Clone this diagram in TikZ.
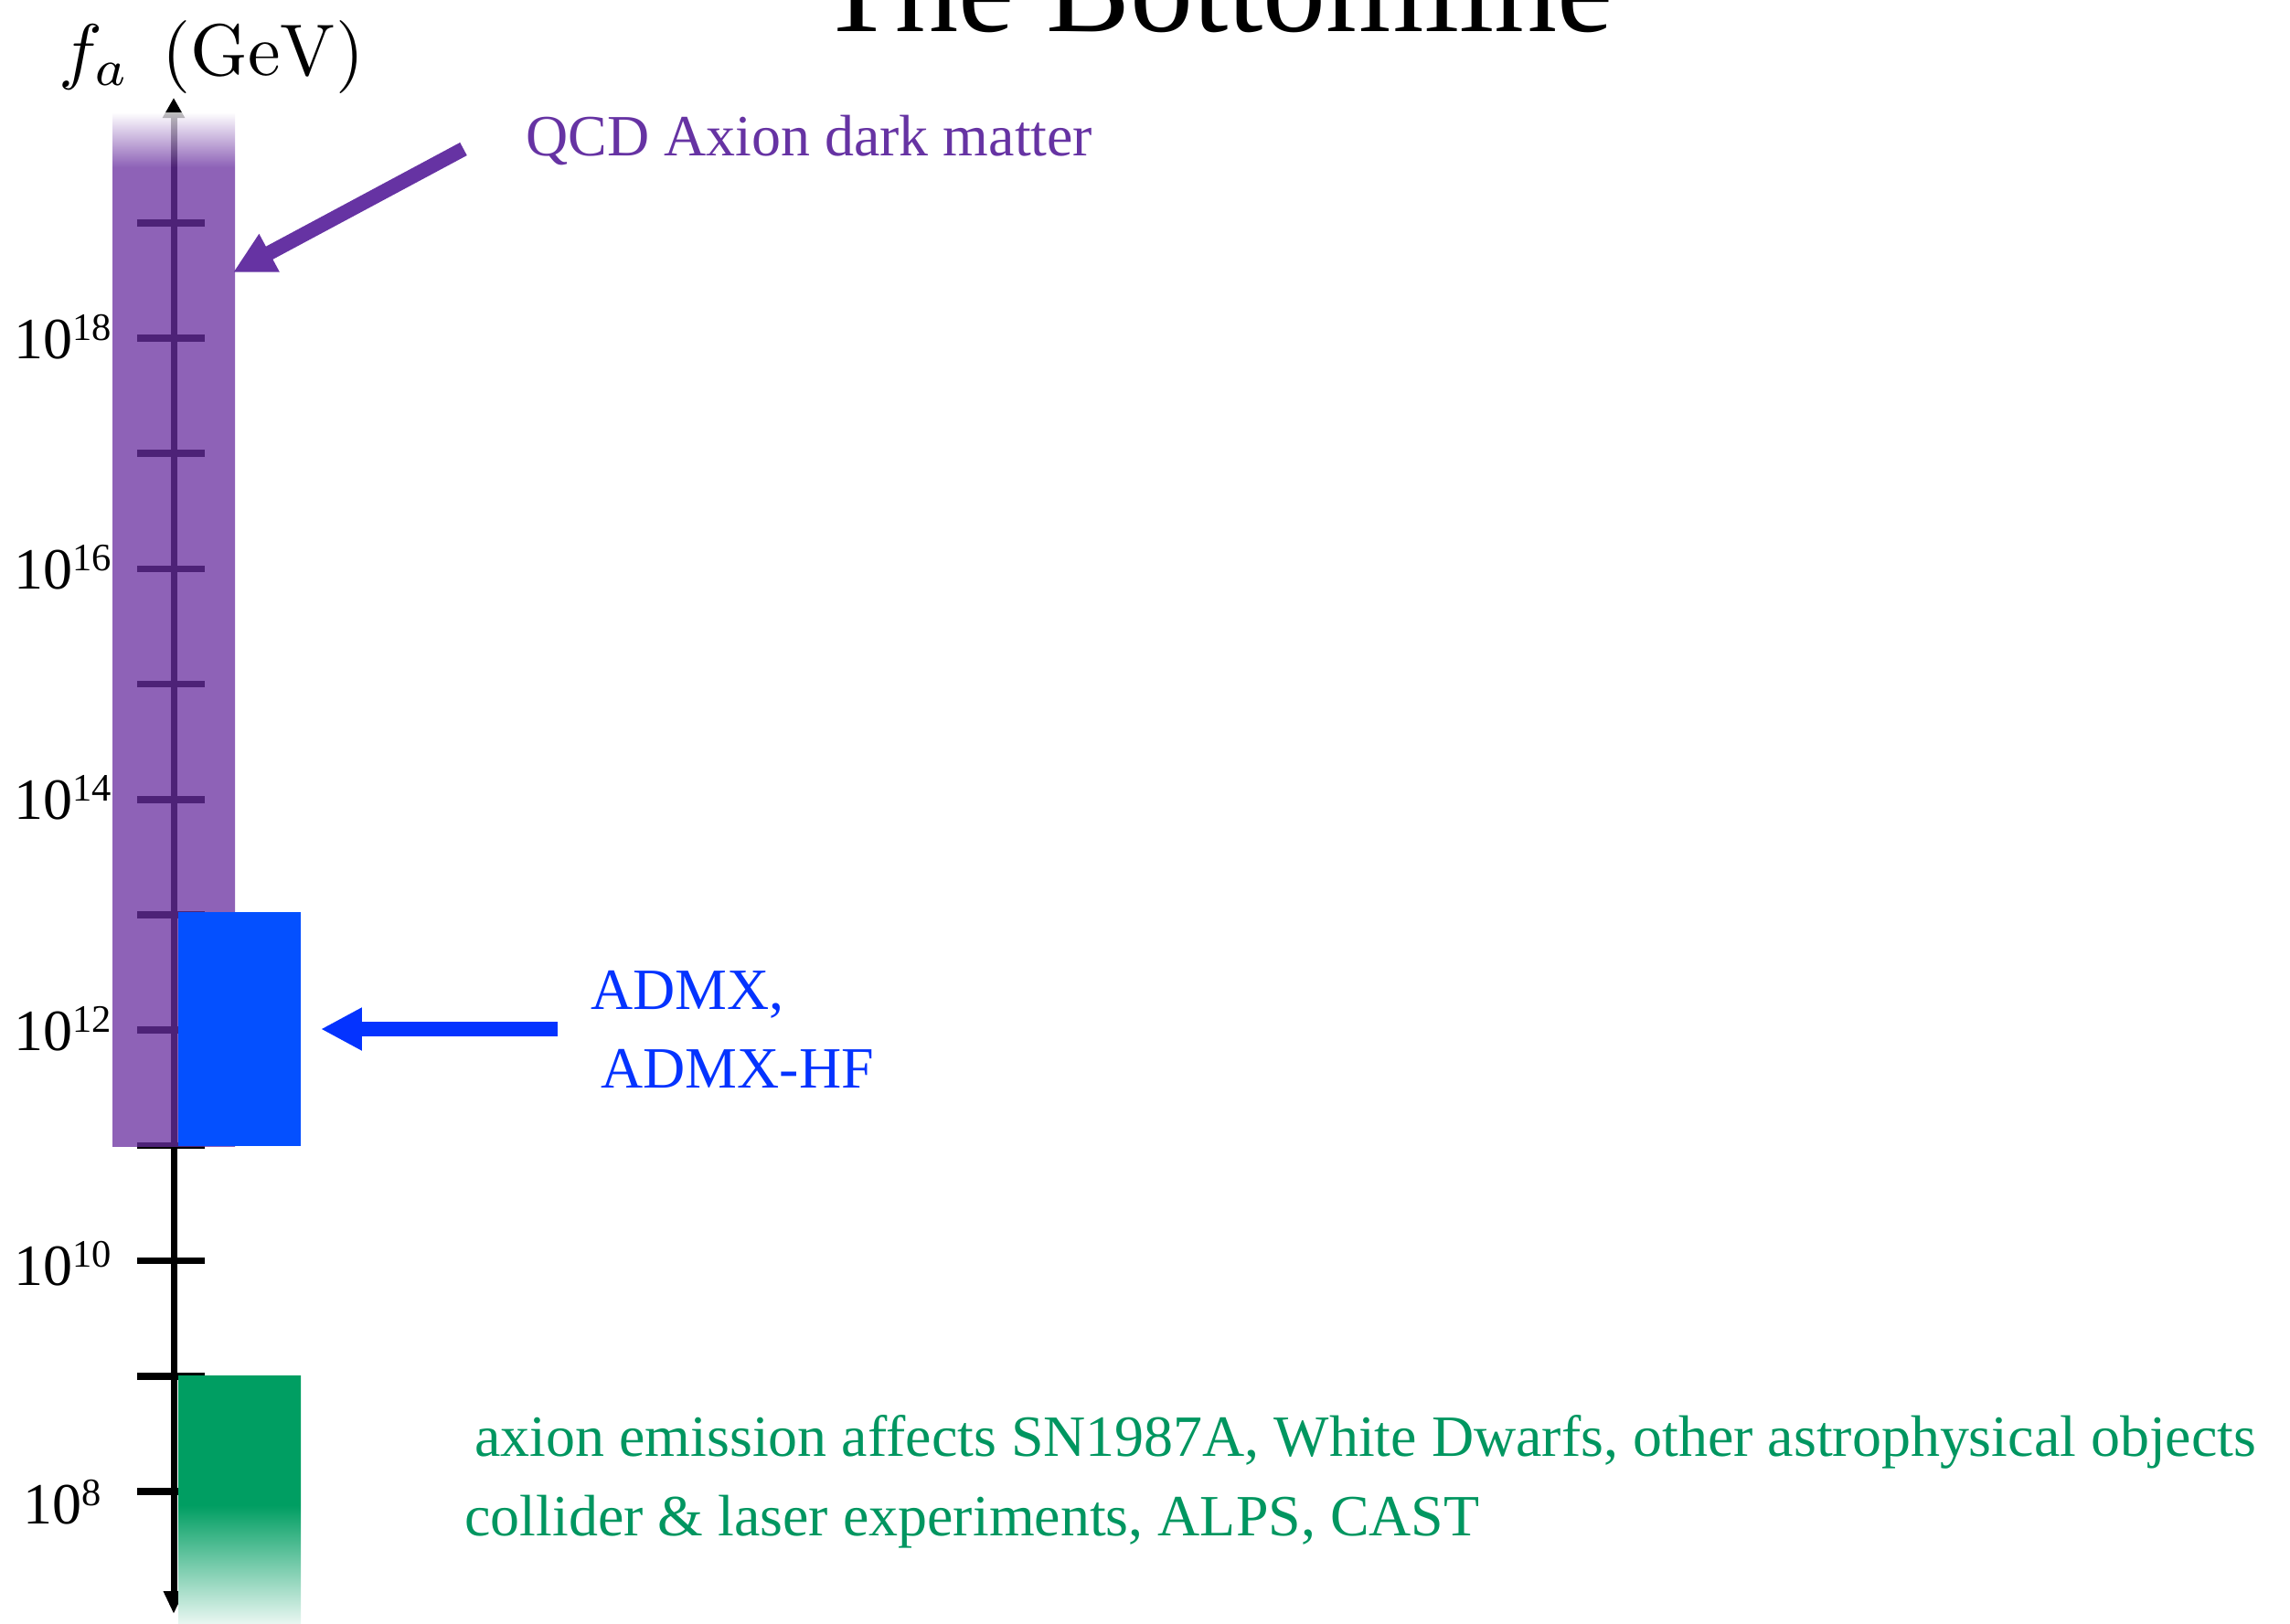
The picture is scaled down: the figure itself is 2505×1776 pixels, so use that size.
\documentclass[tikz,border=0pt]{standalone}
\usepackage[no-math]{fontspec}
\setmainfont{Liberation Serif}
\usetikzlibrary{arrows.meta}
\definecolor{bandpurple}{RGB}{104,46,159}
\definecolor{qcdpurple}{RGB}{102,51,163}
\definecolor{admxbox}{RGB}{4,80,255}
\definecolor{admxblue}{RGB}{4,51,255}
\definecolor{astrogreen}{RGB}{0,158,98}
\definecolor{textgreen}{RGB}{0,150,96}
\pgfdeclareverticalshading{bandshade}{100bp}{color(0bp)=(bandpurple); color(72.35bp)=(bandpurple); color(75bp)=(white); color(100bp)=(white)}
\pgfdeclareverticalshading{greenshade}{100bp}{color(0bp)=(astrogreen!9); color(25bp)=(astrogreen!9); color(48.8bp)=(astrogreen); color(100bp)=(astrogreen)}
\newcommand\tenpow[1]{10\raisebox{0.4cm}{\fontsize{24.2}{24.2}\selectfont #1}}
\begin{document}
\begin{tikzpicture}[x=0.02cm,y=-0.02cm,
  axisline/.style={line width=0.14cm, black},
  tickmark/.style={line width=0.15cm, black},
  labelfont/.style={font=\fontsize{36.4}{36.4}\selectfont, inner sep=0pt},
  bigarrow/.style={line width=0.32cm, -{Triangle[length=0.9cm,width=0.88cm]}}]
\useasboundingbox (0,0) rectangle (2505,1776);
\clip (0,0) rectangle (2505,1776);
% axis
\coordinate (axtop) at (190,107);
\coordinate (axbot) at (190,1766);
\draw[axisline, {Triangle[length=0.44cm,width=0.46cm]}-{Triangle[length=0.5cm,width=0.42cm]}] (axtop) -- (axbot);
\foreach \e in {8,...,19}
  \draw[tickmark] (150,{370+(18-\e)*126.2}) -- (224,{370+(18-\e)*126.2});
% bands
\shade[shading=bandshade, opacity=0.75] (123,123) rectangle (257,1254);
\fill[admxbox] (195,998) rectangle (329,1254);
\shade[shading=greenshade] (195,1505) rectangle (329,1776);
% tick labels
\node[labelfont, anchor=base] (l18) at (68.5,392) {\tenpow{18}};
\node[labelfont, anchor=base] (l16) at (68.5,644) {\tenpow{16}};
\node[labelfont, anchor=base] (l14) at (68.5,896) {\tenpow{14}};
\node[labelfont, anchor=base] (l12) at (68.5,1149) {\tenpow{12}};
\node[labelfont, anchor=base] (l10) at (68.5,1406) {\tenpow{10}};
\node[labelfont, anchor=base] (l8) at (68.5,1667) {\tenpow{8}};
% axis title
\node[inner sep=0pt, anchor=base west] (axlabel) at (64,82) {\scalebox{4.55}{$f_a\;\,(\mathrm{GeV})$}};
% main title
\node[inner sep=0pt, anchor=base, font=\fontsize{78.5}{78.5}\selectfont] (title) at (1330,34) {The Bottomline};
% QCD axion
\node[labelfont, anchor=base west, text=qcdpurple] (qcd) at (575,170) {QCD Axion dark matter};
\coordinate (qcdtail) at (507,163);
\coordinate (qcdtip) at (255,298);
\draw[bigarrow, qcdpurple] (qcdtail) -- (qcdtip);
% ADMX
\node[labelfont, anchor=base west, text=admxblue] (admx1) at (646,1104) {ADMX,};
\node[labelfont, anchor=base west, text=admxblue] (admx2) at (657,1190) {ADMX-HF};
\coordinate (admxtail) at (610,1126);
\coordinate (admxtip) at (351,1126);
\draw[bigarrow, admxblue] (admxtail) -- (admxtip);
% astro
\node[labelfont, anchor=base west, text=textgreen] (astro1) at (519,1593) {axion emission affects SN1987A, White Dwarfs, other astrophysical objects};
\node[labelfont, anchor=base west, text=textgreen] (astro2) at (508,1680) {collider \& laser experiments, ALPS, CAST};
\end{tikzpicture}
\end{document}
